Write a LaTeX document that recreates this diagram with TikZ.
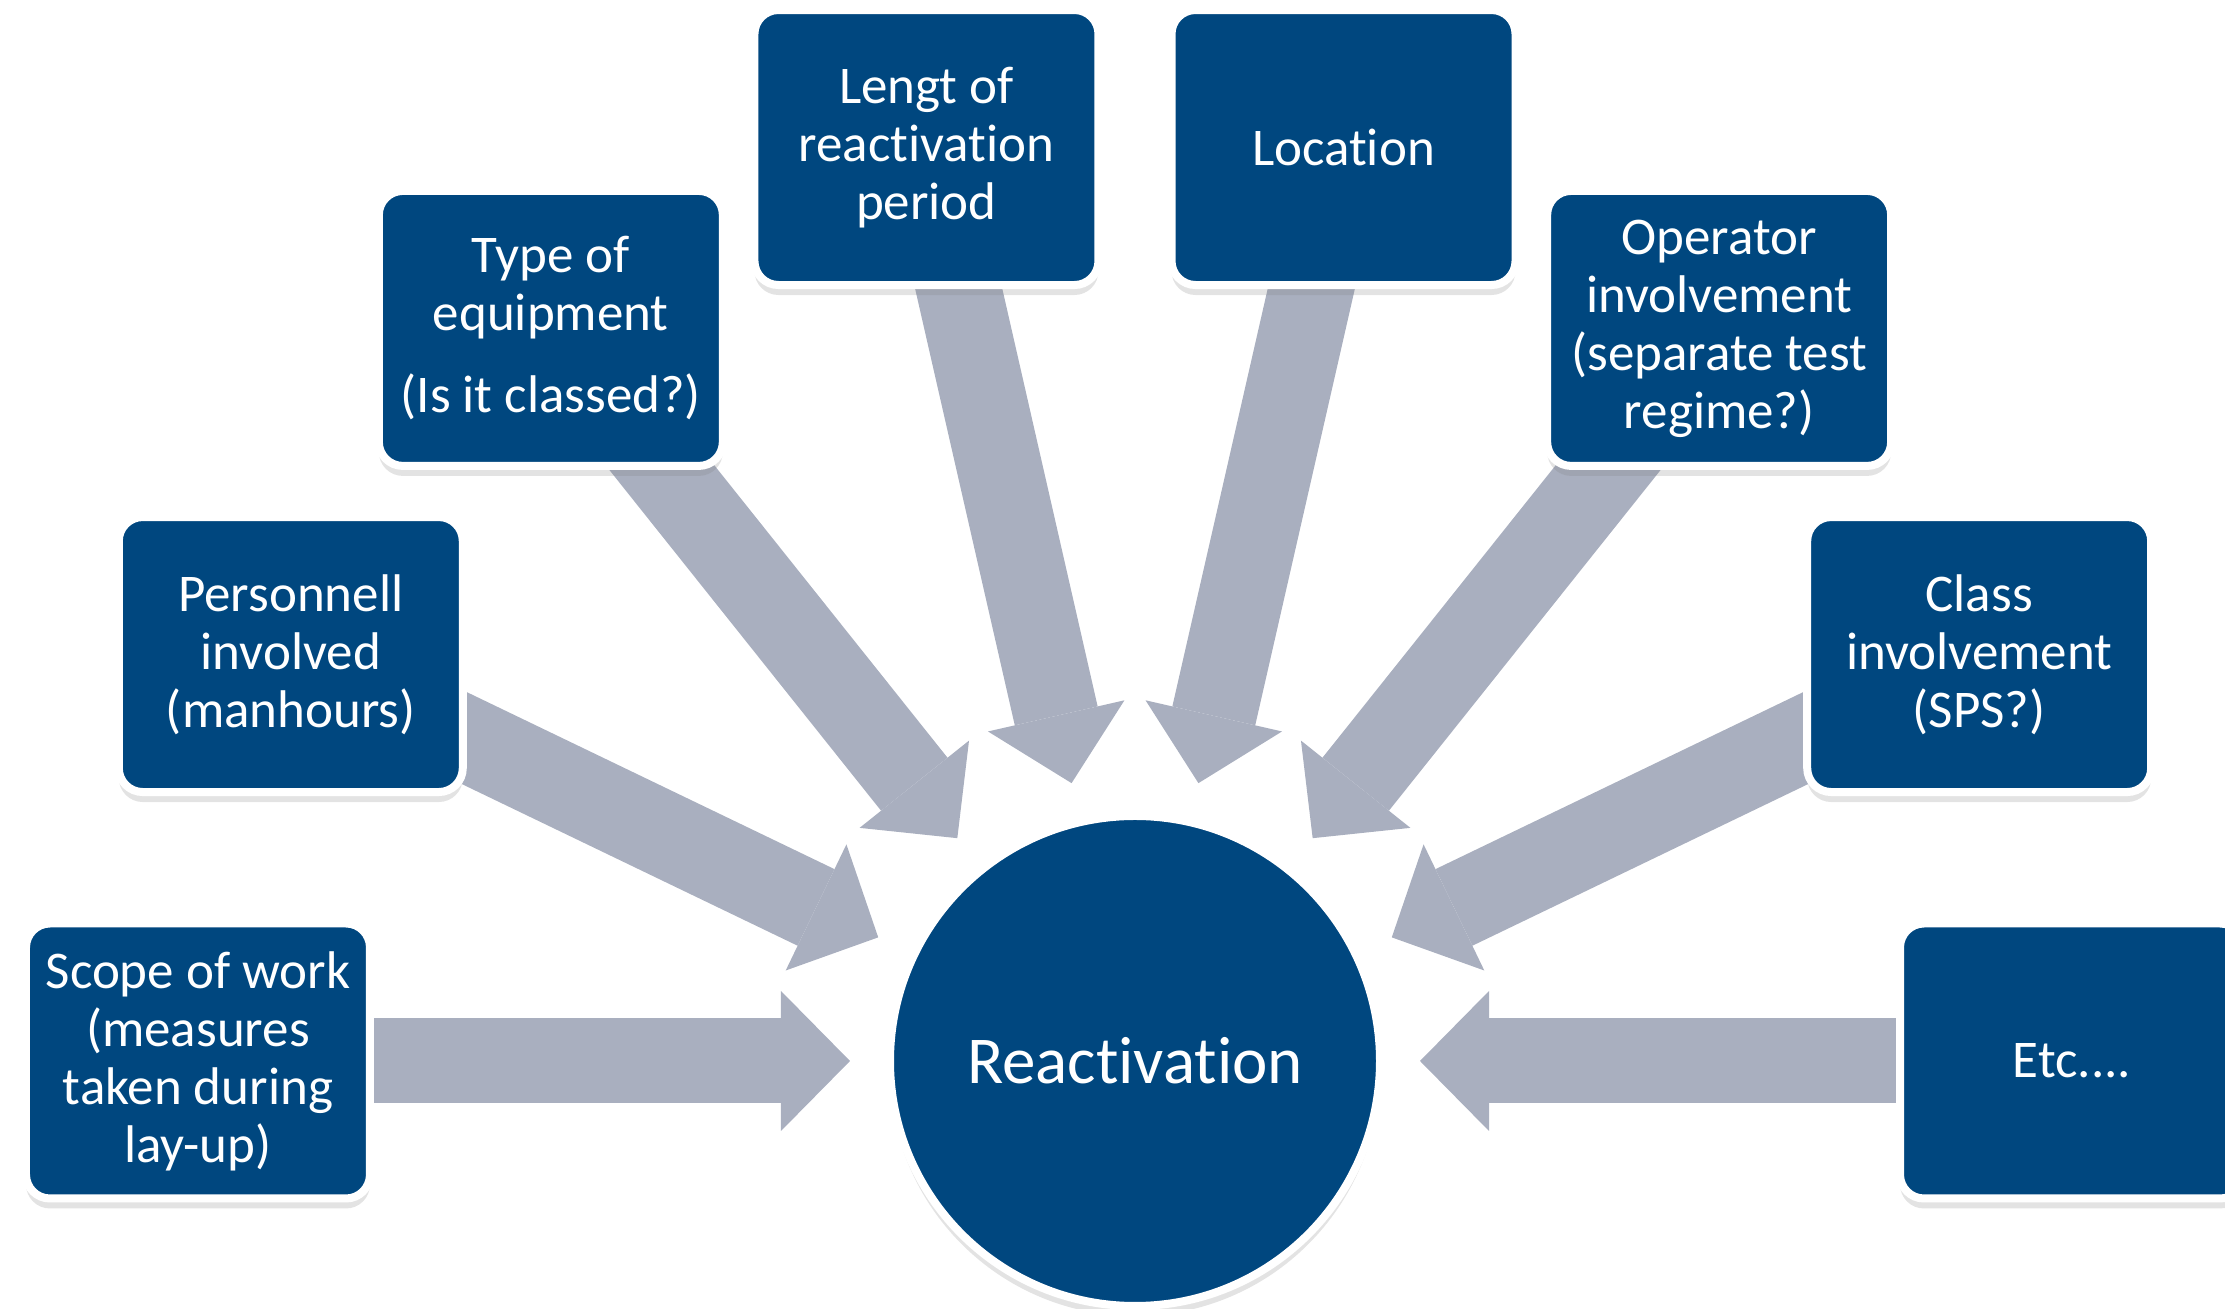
\documentclass[tikz,border=0pt]{standalone}
\usepackage{fontspec}
\setmainfont{Carlito}[RawFeature={-liga;-clig;-calt;-dlig}]
\usepackage{tikz}
\usetikzlibrary{positioning,arrows.meta,calc,shadows,backgrounds}
\definecolor{navy}{HTML}{00477F}
\definecolor{steel}{HTML}{A9AFBF}
\tikzset{
  factor/.style={draw=white,line width=4pt,fill=navy,rounded corners=12pt,
    minimum width=172pt,minimum height=137.5pt,inner sep=0pt,align=center,
    text=white,font=\fontsize{26.5}{29}\selectfont,
    drop shadow={opacity=0.22,shadow xshift=0pt,shadow yshift=-5pt}},
  hub/.style={circle,draw=white,line width=4pt,fill=navy,minimum size=245pt,
    inner sep=0pt,text=white,font=\fontsize{33.5}{36}\selectfont,
    drop shadow={opacity=0.22,shadow xshift=0pt,shadow yshift=-5pt}},
  feed/.style={draw=steel,line width=42.5pt,
    -{Triangle[length=34.5pt 0,width=70pt 0,line width=0pt]}}}

\begin{document}
\begin{tikzpicture}
\useasboundingbox (-567.5pt,-124pt) rectangle (545pt,530.5pt);

% factors round the hub
\coordinate (c) at (0,0);
\node[factor] (scope)    at (180:468.5pt)    {Scope of work\\(measures\\taken during\\lay-up)};
\node[factor] (staff)    at (154.29:468.5pt) {Personnell\\involved\\(manhours)};
\node[factor] (equip)    at (128.57:468.5pt) {Type of\\equipment\\[12pt](Is it classed?)};
\node[factor] (length)   at (102.86:468.5pt) {Lengt of\\reactivation\\period};
\node[factor] (location) at (77.14:468.5pt)  {Location};
\node[factor] (operator) at (51.43:468.5pt)  {Operator\\involvement\\(separate test\\regime?)};
\node[factor] (class)    at (25.71:468.5pt)  {Class\\involvement\\(SPS?)};
\node[factor] (etc)      at (0:468.5pt)      {Etc....};

% arrows sit behind the boxes
\begin{scope}[on background layer]
\foreach \f in {scope,staff,equip,length,location,operator,class,etc}
  \draw[feed] (\f.center) -- ($(c)!142.5pt!(\f.center)$);
\end{scope}

\node[hub] (react) at (c) {Reactivation};
\end{tikzpicture}
\end{document}
